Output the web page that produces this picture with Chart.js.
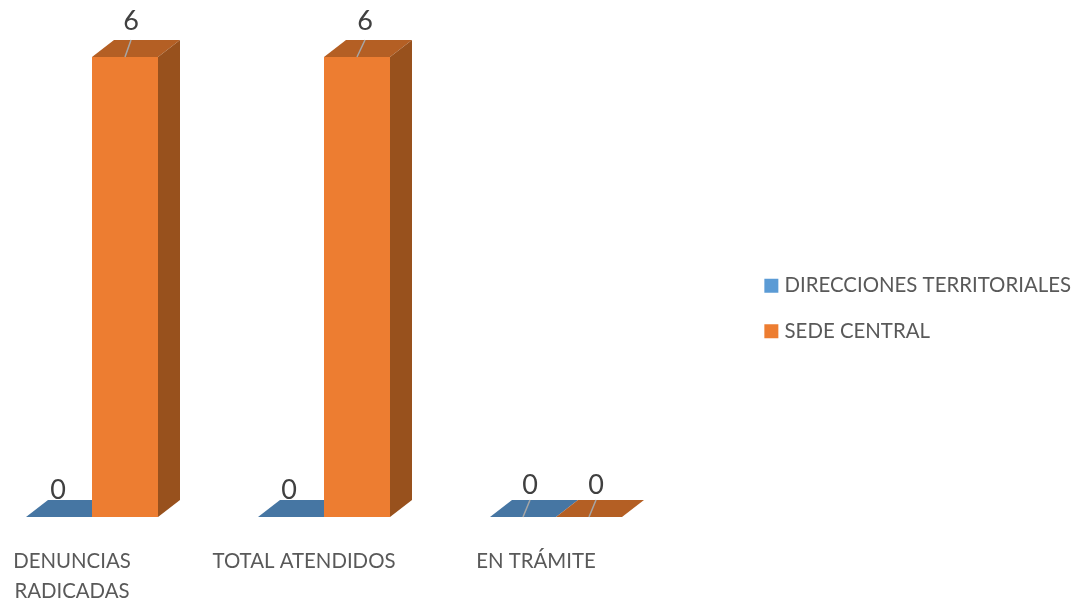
<!DOCTYPE html>
<html>
<head>
<meta charset="utf-8">
<script src="https://cdn.jsdelivr.net/npm/chart.js@4/dist/chart.umd.min.js"></script>
<style>
  html, body { margin: 0; padding: 0; background: #fff; }
  canvas { display: block; }
</style>
</head>
<body>
<canvas id="grafica" width="1074" height="601"></canvas>
<script>
const categorias = [['DENUNCIAS', 'RADICADAS'], 'TOTAL ATENDIDOS', 'EN TRÁMITE']
const direcciones = [0, 0, 0]
const sede = [6, 6, 0]

const colores = ['#5b9bd5', '#ed7d31']
const techos = ['#4676a3', '#b45f24']
const lados = ['#3f6d96', '#98511d']

// the picture has a fake 3d look, the depth is drawn on top of the real bars
const fondoX = 22
const fondoY = 17

// where each value label sits relative to its bar: [dx, dy from base or top]
const desvios = [
  [[-1, -27], [-2, -27], [7, -32]],
  [[6, -36], [8, -36], [7, -32]]
]
const guias = [[false, false, true], [true, true, true]]

const cubo = {
  id: 'cubo',
  afterLayout(chart) {
    // plot band starts left of the canvas in the reference
    const x = chart.scales.x
    x.left = -24
    x.right = 672
    x.width = 696
    x.configure()
  },
  beforeDatasetsDraw(chart) {
    const ctx = chart.ctx
    chart.data.datasets.forEach((ds, i) => {
      chart.getDatasetMeta(i).data.forEach((bar) => {
        const izq = bar.x - bar.width / 2
        const der = bar.x + bar.width / 2
        const arriba = bar.y
        const abajo = bar.base
        ctx.fillStyle = techos[i]
        ctx.beginPath()
        ctx.moveTo(izq, arriba)
        ctx.lineTo(izq + fondoX, arriba - fondoY)
        ctx.lineTo(der + fondoX, arriba - fondoY)
        ctx.lineTo(der, arriba)
        ctx.closePath()
        ctx.fill()
        if (abajo - arriba > 0) {
          ctx.fillStyle = lados[i]
          ctx.beginPath()
          ctx.moveTo(der, arriba)
          ctx.lineTo(der + fondoX, arriba - fondoY)
          ctx.lineTo(der + fondoX, abajo - fondoY)
          ctx.lineTo(der, abajo)
          ctx.closePath()
          ctx.fill()
        }
      })
    })
  },
  afterDatasetsDraw(chart) {
    const ctx = chart.ctx
    ctx.save()
    ctx.font = '27px Lato'
    ctx.textAlign = 'center'
    ctx.textBaseline = 'middle'
    chart.data.datasets.forEach((ds, i) => {
      chart.getDatasetMeta(i).data.forEach((bar, j) => {
        const d = desvios[i][j]
        if (guias[i][j]) {
          ctx.strokeStyle = '#a6a6a6'
          ctx.lineWidth = 1.5
          ctx.beginPath()
          ctx.moveTo(bar.x, bar.y)
          ctx.lineTo(bar.x + d[0], bar.y - fondoY)
          ctx.stroke()
        }
        ctx.fillStyle = '#404040'
        ctx.fillText(String(ds.data[j]), bar.x + d[0], bar.y + d[1])
      })
    })
    ctx.restore()
  }
}

new Chart(document.getElementById('grafica'), {
  type: 'bar',
  plugins: [cubo],
  data: {
    labels: categorias,
    datasets: [
      { label: 'DIRECCIONES TERRITORIALES', data: direcciones, backgroundColor: colores[0] },
      { label: 'SEDE CENTRAL', data: sede, backgroundColor: colores[1] }
    ]
  },
  options: {
    responsive: false,
    animation: false,
    layout: { padding: { top: 16, right: -7 } },
    datasets: { bar: { categoryPercentage: 132 / 232, barPercentage: 1, borderWidth: 0 } },
    scales: {
      x: {
        grid: { display: false, drawTicks: false },
        border: { display: false },
        afterFit(scale) { scale.height = 84 },
        ticks: {
          autoSkip: false,
          maxRotation: 0,
          padding: 29,
          labelOffset: -20,
          color: '#595959',
          font: { family: 'Lato', size: 20.4, lineHeight: 1.47 }
        }
      },
      y: { display: false, min: 0, max: 6.535 }
    },
    plugins: {
      tooltip: { enabled: false },
      legend: {
        position: 'right',
        labels: {
          boxWidth: 6,
          boxHeight: 6,
          padding: 25,
          color: '#595959',
          font: { family: 'Lato', size: 20.4 },
          generateLabels(chart) {
            return Chart.defaults.plugins.legend.labels.generateLabels(chart).map((item) => {
              item.strokeStyle = item.fillStyle
              item.lineWidth = 8
              return item
            })
          }
        }
      }
    }
  }
})
</script>
</body>
</html>
